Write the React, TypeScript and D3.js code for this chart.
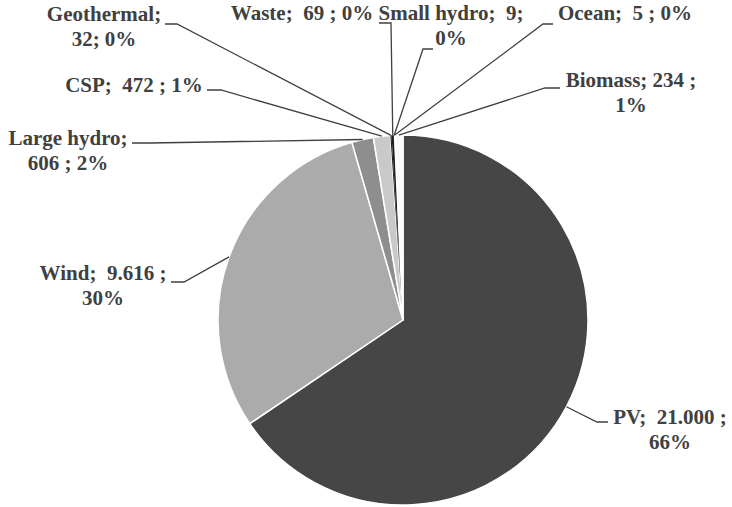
import { useEffect, useRef } from 'react';
import * as d3 from 'd3';

// capacity by technology (MW), order as drawn clockwise from 12 o'clock
const categories = ['PV', 'Wind', 'Large hydro', 'CSP', 'Geothermal', 'Waste', 'Small hydro', 'Ocean', 'Biomass'];
const values = [21000, 9616, 606, 472, 32, 69, 9, 5, 234];
const valueLabels = ['21.000', '9.616', '606', '472', '32', '69', '9', '5', '234'];
const percentLabels = ['66%', '30%', '2%', '1%', '0%', '0%', '0%', '0%', '1%'];

const colors = ['#464646', '#ababab', '#8e8e8e', '#c9c9c9', '#1e1e1e', '#1e1e1e', '#1e1e1e', '#1e1e1e', '#fafafa'];

// label text lines (built from the data above)
const labelLines = (i: number): string[] => {
  const c = categories[i];
  const v = valueLabels[i];
  const p = percentLabels[i];
  switch (c) {
    case 'PV':
    case 'Wind':
      return [`${c};  ${v} ;`, p];
    case 'Large hydro':
      return [`${c};`, `${v} ; ${p}`];
    case 'Geothermal':
      return [`${c};`, `${v}; ${p}`];
    case 'Small hydro':
      return [`${c};  ${v};`, p];
    case 'Biomass':
      return [`${c}; ${v} ;`, p];
    default:
      return [`${c};  ${v} ; ${p}`];
  }
};

// label placement: text centre x, first baseline y, leader start (near text) and elbow
const labelLayout = [
  { tx: 670, ty: 424, lx: 608, ex: 597, ey: 422 },
  { tx: 103, ty: 280, lx: 171, ex: 184, ey: 282 },
  { tx: 68, ty: 145, lx: 132, ex: 150, ey: 143 },
  { tx: 134, ty: 92, lx: 207, ex: 221, ey: 90 },
  { tx: 104, ty: 21, lx: 165, ex: 177, ey: 24 },
  { tx: 302, ty: 20, lx: 379, ex: 391, ey: 23 },
  { tx: 451, ty: 20, lx: 433, ex: 423, ey: 49 },
  { tx: 625, ty: 20, lx: 553, ex: 543, ey: 24 },
  { tx: 631, ty: 87, lx: 560, ex: 545, ey: 88 },
];

const App = (): JSX.Element => {
  const svgRef = useRef<SVGSVGElement>(null);

  useEffect(() => {
    if (svgRef.current) {
      svgRef.current.innerHTML = '';
    }
    const width = 732;
    const height = 507;
    const cx = 403;
    const cy = 320;
    const radius = 185;
    const textColor = '#404040';

    const svg = d3.select(svgRef.current).attr('width', width).attr('height', height).attr('viewBox', [0, 0, width, height]);

    const pie = d3
      .pie<number>()
      .sort(null)
      .value((d) => d);
    const arcs = pie(values);

    const arc = d3.arc<d3.PieArcDatum<number>>().innerRadius(0).outerRadius(radius);

    const g = svg.append('g').attr('transform', `translate(${cx},${cy})`);

    // the tiny slices get no border so they still show as a dark sliver
    g.selectAll('path')
      .data(arcs)
      .enter()
      .append('path')
      .attr('d', arc)
      .attr('fill', (_, i) => colors[i])
      .attr('stroke', (d) => (d.value < 100 ? 'none' : '#ffffff'))
      .attr('stroke-width', 1.5)
      .attr('stroke-linejoin', 'round');

    // leader lines: from the label to the slice's mid-angle point on the rim
    const leaders = svg.append('g').attr('fill', 'none').attr('stroke', textColor).attr('stroke-width', 1.3);
    arcs.forEach((a, i) => {
      const mid = (a.startAngle + a.endAngle) / 2;
      const ax = cx + radius * Math.sin(mid);
      const ay = cy - radius * Math.cos(mid);
      const l = labelLayout[i];
      leaders.append('polyline').attr('points', `${l.lx},${l.ey} ${l.ex},${l.ey} ${ax},${ay}`);
    });

    const labels = svg
      .append('g')
      .attr('font-family', 'Times New Roman, Liberation Serif, DejaVu Serif, serif')
      .attr('font-weight', 'bold')
      .attr('font-size', 21)
      .attr('fill', textColor)
      .attr('text-anchor', 'middle');

    categories.forEach((_, i) => {
      const l = labelLayout[i];
      const t = labels.append('text').attr('x', l.tx).attr('y', l.ty).style('white-space', 'pre');
      labelLines(i).forEach((line, j) => {
        t.append('tspan')
          .attr('x', l.tx)
          .attr('dy', j === 0 ? 0 : 25)
          .text(line);
      });
    });
  }, []);

  return (
    <div style={{ position: 'absolute', left: 0, top: 0 }}>
      <svg ref={svgRef} style={{ display: 'block', background: '#ffffff' }} />
    </div>
  );
};

export default App;
